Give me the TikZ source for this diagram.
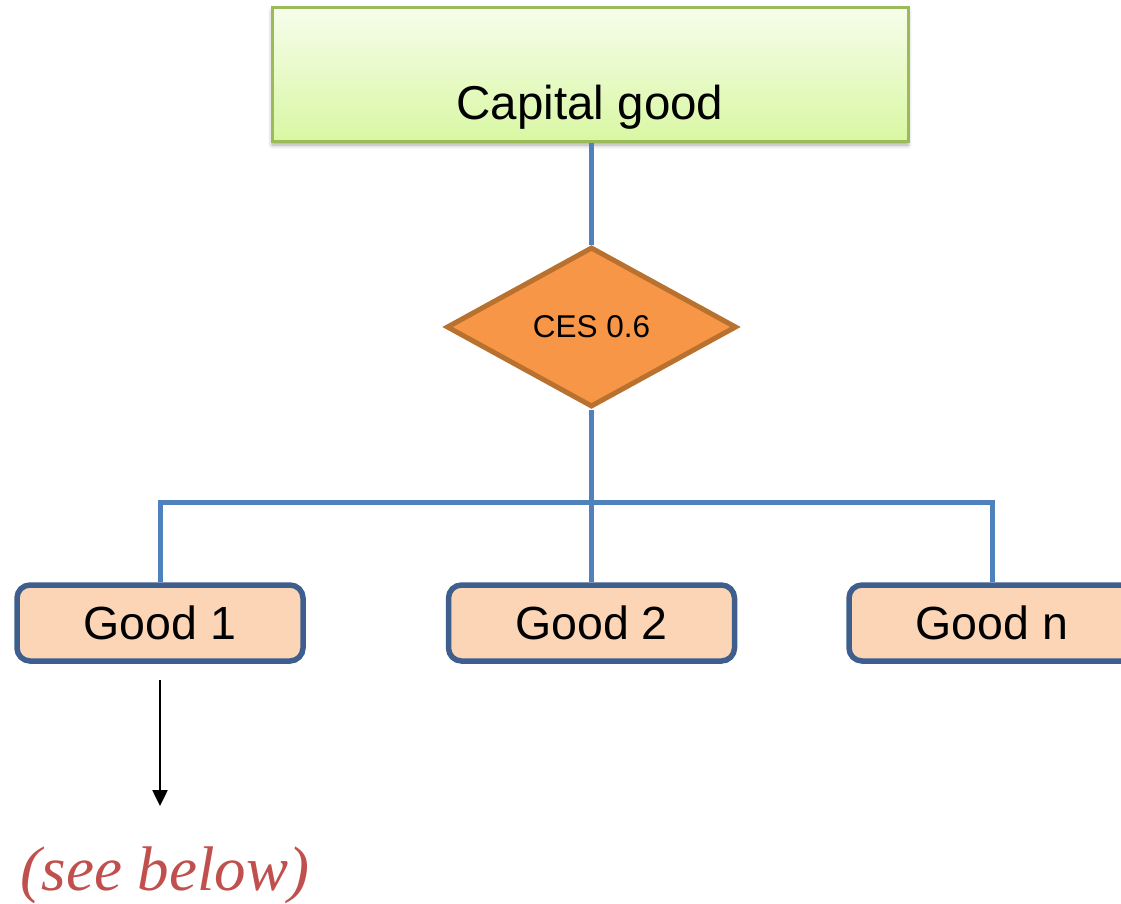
\documentclass[tikz,border=0pt]{standalone}
\usepackage{fontspec}
\setmainfont{Liberation Sans}
\newfontfamily\notefont{Liberation Serif}
\usetikzlibrary{shapes.geometric,arrows.meta,shadows.blur}

\definecolor{capfillTop}{HTML}{F6FDEB}
\definecolor{capfillBot}{HTML}{D9F7A3}
\definecolor{capline}{HTML}{9BBB59}
\definecolor{cesfill}{HTML}{F79646}
\definecolor{cesline}{HTML}{B8712F}
\definecolor{goodfill}{HTML}{FBD5B5}
\definecolor{goodline}{HTML}{3E5F8D}
\definecolor{linkblue}{HTML}{4F81BD}
\definecolor{notered}{HTML}{C0504D}

\tikzset{
  capbox/.style={rectangle, draw=capline, line width=3pt,
    top color=capfillTop, bottom color=capfillBot,
    minimum width=636pt, minimum height=134pt, inner sep=0pt,
    blur shadow={shadow xshift=0pt, shadow yshift=-3pt,
      shadow blur radius=4pt, shadow opacity=35}},
  cesbox/.style={diamond, draw=cesline, fill=cesfill, line width=5pt,
    minimum width=290pt, minimum height=160pt, inner sep=0pt,
    font=\fontsize{31.5}{34}\selectfont},
  goodbox/.style={rectangle, rounded corners=13pt, draw=goodline,
    fill=goodfill, line width=5.5pt, minimum width=286pt,
    minimum height=76pt, inner sep=0pt,
    font=\fontsize{46.5}{50}\selectfont},
  link/.style={draw=linkblue, line width=5pt},
  pointer/.style={draw=black, line width=2.5pt,
    -{Triangle[length=16pt, width=15pt]}},
}

\begin{document}
\begin{tikzpicture}[x=1pt, y=-1pt]
  \clip (0,0) rectangle (1121,904);

  % top aggregate
  \node[capbox] (top) at (590,75) {};
  \node[font=\fontsize{47.5}{50}\selectfont] (toplabel) at (590,107) {Capital good};

  % nesting function
  \node[cesbox] (ces) at (591.5,327) {CES 0.6};

  % inputs
  \node[goodbox] (g1) at (160,623) {Good 1};
  \node[goodbox] (g2) at (591.5,623) {Good 2};
  \node[goodbox] (gn) at (992,623) {Good n};

  \coordinate (bar) at (591.5,502);

  % tree connectors
  \draw[link] (top.south -| ces.north) -- (ces.north);
  \draw[link] (ces.south) -- (g2.north);
  \draw[link] (g1.north) -- (g1.north |- bar) -- (gn.north |- bar) -- (gn.north);

  % pointer to the further breakdown
  \coordinate (ptrStart) at (160,680);
  \coordinate (ptrEnd) at (160,806);
  \draw[pointer] (ptrStart) -- (ptrEnd);
  \node[anchor=base, text=notered, font=\notefont\itshape\fontsize{63}{66}\selectfont]
    (note) at (165,890) {(see below)};
\end{tikzpicture}
\end{document}
